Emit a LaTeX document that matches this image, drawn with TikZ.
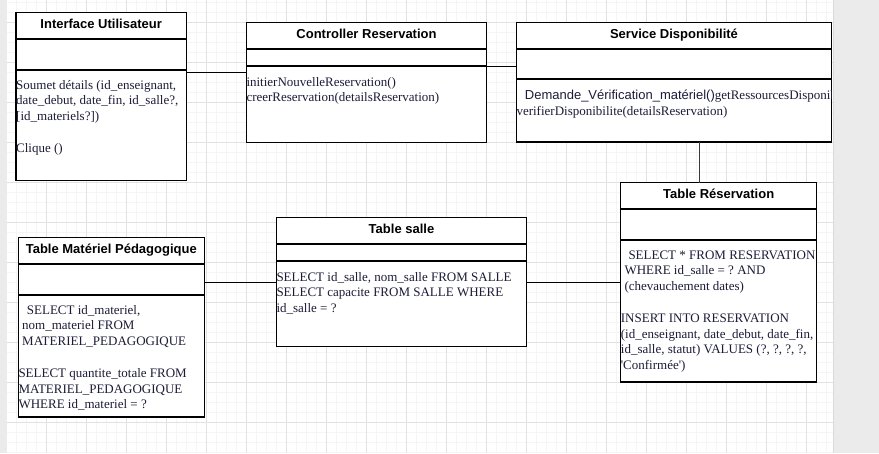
\documentclass[tikz,border=0pt]{standalone}
\usepackage{fontspec}
\setmainfont{Liberation Serif}[Ligatures=TeXOff]
\newfontfamily\hfont{Liberation Sans}
\definecolor{txt}{HTML}{1C1C38}
\definecolor{gminor}{HTML}{F5F5F5}
\definecolor{gmajor}{HTML}{E2E2E2}
\definecolor{pagegrey}{HTML}{EBEBEB}
\definecolor{shadowgrey}{HTML}{D9D9D9}
\definecolor{connvert}{HTML}{3A3A3A}
\begin{document}
\frenchspacing
\begin{tikzpicture}[x=1pt,y=-1pt,
  classbox/.style={draw=black, line width=1.1pt, fill=white, inner sep=0pt, outer sep=0pt, anchor=north west},
  sepline/.style={line width=1.7pt, draw=black},
  hdr/.style={font=\hfont\bfseries\fontsize{13}{15.8}\selectfont, anchor=base, inner sep=0pt},
  body/.style={font=\fontsize{13}{15.8}\selectfont\frenchspacing, text=txt, anchor=base west, inner sep=0pt},
  conn/.style={line width=0.9pt, draw=black},
  minorline/.style={draw=gminor, line width=0.7pt},
  majorline/.style={draw=gmajor, line width=0.8pt}]
\useasboundingbox (0,0) rectangle (879,453);
% page background and grid
\fill[pagegrey] (0,0) rectangle (879,453);
\fill[white] (6.7,0) rectangle (833.3,453);
\foreach \x in {16.7,26.7,...,833} \draw[minorline] (\x,0) -- (\x,453);
\foreach \y in {2.3,12.3,...,453} \draw[minorline] (6.7,\y) -- (833.3,\y);
\foreach \x in {46.7,86.7,...,833} \draw[majorline] (\x,0) -- (\x,453);
\foreach \y in {22.3,62.3,...,453} \draw[majorline] (6.7,\y) -- (833.3,\y);
\draw[shadowgrey, line width=1pt] (833.8,0) -- (833.8,453);

% boxes
\node[classbox, minimum width=170.3pt, minimum height=168pt] (iface) at (16,12.3) {};
\node[classbox, minimum width=240.4pt, minimum height=120pt] (ctrl) at (246.3,22.3) {};
\node[classbox, minimum width=315.4pt, minimum height=119.7pt] (svc) at (516.3,22.3) {};
\node[classbox, minimum width=196pt, minimum height=199.3pt] (resa) at (620.7,182.7) {};
\node[classbox, minimum width=186pt, minimum height=179.7pt] (mat) at (18.3,237.3) {};
\node[classbox, minimum width=250.4pt, minimum height=129.4pt] (salle) at (276.3,217.3) {};

% separators
\draw[sepline] (iface.west |- 0,39) -- (iface.east |- 0,39);
\draw[sepline] (iface.west |- 0,70) -- (iface.east |- 0,70);
\draw[sepline] (ctrl.west |- 0,48.7) -- (ctrl.east |- 0,48.7);
\draw[sepline] (ctrl.west |- 0,66) -- (ctrl.east |- 0,66);
\draw[sepline] (svc.west |- 0,48.7) -- (svc.east |- 0,48.7);
\draw[sepline] (svc.west |- 0,79.3) -- (svc.east |- 0,79.3);
\draw[sepline] (resa.west |- 0,209) -- (resa.east |- 0,209);
\draw[sepline] (resa.west |- 0,240) -- (resa.east |- 0,240);
\draw[sepline] (mat.west |- 0,263.7) -- (mat.east |- 0,263.7);
\draw[sepline] (mat.west |- 0,295) -- (mat.east |- 0,295);
\draw[sepline] (salle.west |- 0,243.7) -- (salle.east |- 0,243.7);
\draw[sepline] (salle.west |- 0,261) -- (salle.east |- 0,261);

% connectors
\draw[conn] (iface.east |- 0,72) -- (ctrl.west |- 0,72);
\draw[conn] (ctrl.east |- 0,66.7) -- (svc.west |- 0,66.7);
\draw[conn, draw=connvert, line width=0.9pt] (svc.south -| 699,0) -- (resa.north -| 699,0);
\draw[conn] (mat.east |- 0,282.5) -- (salle.west |- 0,282.5);
\draw[conn] (salle.east |- 0,282.7) -- (resa.west |- 0,282.7);

% headers
\node[hdr] (ifaceH) at (iface.north |- 0,28.3) {Interface Utilisateur};
\node[hdr] (ctrlH) at (ctrl.north |- 0,38.3) {Controller Reservation};
\node[hdr] (svcH) at (svc.north |- 0,38.3) {Service Disponibilité};
\node[hdr] (resaH) at (resa.north |- 0,198.7) {Table Réservation};
\node[hdr] (matH) at (mat.north |- 0,253.3) {Table Matériel Pédagogique};
\node[hdr] (salleH) at (salle.north |- 0,233.3) {Table salle};

% Interface body
\node[body] (if1) at (16,89) {Soumet détails (id\_enseignant,};
\node[body] (if2) at (16,104.8) {date\_debut, date\_fin, id\_salle?,};
\node[body] (if3) at (16,120.6) {[id\_materiels?])};
\node[body] (if4) at (16,152.2) {Clique ()};

% Controller body
\node[body] (ct1) at (246.3,86) {initierNouvelleReservation()};
\node[body] (ct2) at (246.3,101.8) {creerReservation(detailsReservation)};

% Service body (clipped to the box)
\begin{scope}
\clip (516.3,22.3) rectangle (831.7,142);
\node[body] (sv1) at (524.7,99) {{\hfont Demande\_Vérification\_matériel()}getRessourcesDisponib};
\node[body] (sv2) at (516.3,115) {verifierDisponibilite(detailsReservation)};
\end{scope}

% Table Reservation body
\node[body] (rs1) at (628.3,259) {SELECT * FROM RESERVATION};
\node[body] (rs2) at (624.3,274.8) {WHERE id\_salle = ? AND};
\node[body] (rs3) at (624.3,290.6) {(chevauchement dates)};
\node[body] (rs4) at (620.7,322.2) {INSERT INTO RESERVATION};
\node[body] (rs5) at (620.7,338) {(id\_enseignant, date\_debut, date\_fin,};
\node[body] (rs6) at (620.7,353.8) {id\_salle, statut) VALUES (?, ?, ?, ?,};
\node[body] (rs7) at (620.7,369.6) {'Confirmée')};

% Table Materiel body
\node[body] (mt1) at (26.7,314) {SELECT id\_materiel,};
\node[body] (mt2) at (22,329.8) {nom\_materiel FROM};
\node[body] (mt3) at (22,345.6) {MATERIEL\_PEDAGOGIQUE};
\node[body] (mt4) at (18.3,377.2) {SELECT quantite\_totale FROM};
\node[body] (mt5) at (18.3,393) {MATERIEL\_PEDAGOGIQUE};
\node[body] (mt6) at (18.3,408.8) {WHERE id\_materiel = ?};

% Table salle body
\node[body] (sl1) at (276.3,281) {SELECT id\_salle, nom\_salle FROM SALLE};
\node[body] (sl2) at (276.3,296.8) {SELECT capacite FROM SALLE WHERE};
\node[body] (sl3) at (276.3,312.6) {id\_salle = ?};
\end{tikzpicture}
\end{document}
